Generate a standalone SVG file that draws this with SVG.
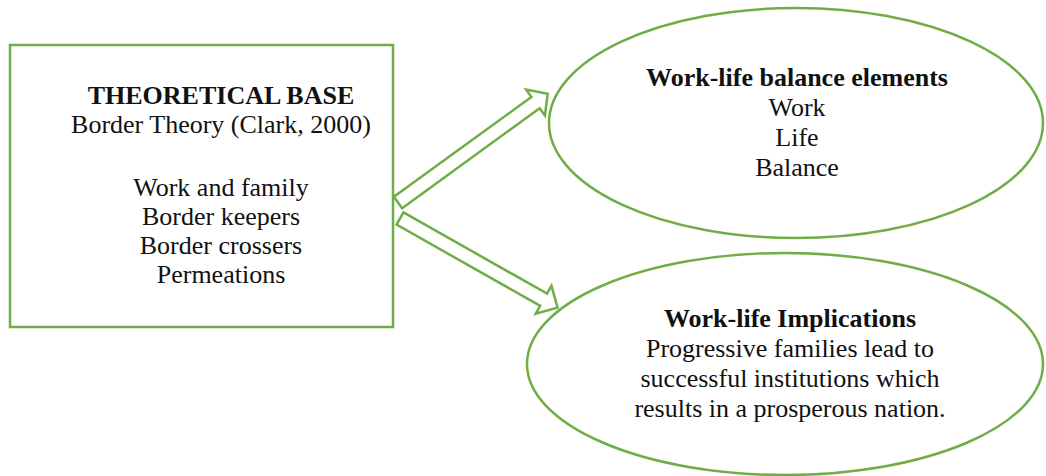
<svg xmlns="http://www.w3.org/2000/svg" width="1046" height="476" viewBox="0 0 1046 476">
  <style>
    .shape { fill: #ffffff; stroke: #70ad47; stroke-width: 2.5; }
    .arrow { fill: #ffffff; stroke: #70ad47; stroke-width: 2.5; stroke-linejoin: miter; }
    text { font-family: "Liberation Serif", "Times New Roman", serif; font-size: 26px; fill: #111111; text-anchor: middle; }
    .bold { font-weight: bold; }
  </style>
  <defs>
    <!-- block arrow pointing along +x, tail at origin -->
    <polygon id="block-arrow-185" points="0,-7 170,-7 170,-16 185,0 170,16 170,7 0,7"/>
    <polygon id="block-arrow-181" points="0,-7 165,-7 165,-16 181,0 165,16 165,7 0,7"/>
  </defs>
  <rect width="1046" height="476" fill="#ffffff"/>

  <g id="connectors">
    <use href="#block-arrow-185" class="arrow" transform="translate(398,202.5) rotate(-36)"/>
    <use href="#block-arrow-181" class="arrow" transform="translate(400,218.5) rotate(29.5)"/>
  </g>

  <g id="theoretical-base">
    <rect class="shape" x="10" y="45" width="383" height="282"/>
    <text class="bold" x="221" y="104">THEORETICAL BASE</text>
    <text x="221" y="133">Border Theory (Clark, 2000)</text>
    <text x="221" y="196">Work and family</text>
    <text x="221" y="225">Border keepers</text>
    <text x="221" y="254">Border crossers</text>
    <text x="221" y="283">Permeations</text>
  </g>

  <g id="balance-elements">
    <ellipse class="shape" cx="796" cy="123" rx="247" ry="115"/>
    <text class="bold" x="797" y="86">Work-life balance elements</text>
    <text x="797" y="116">Work</text>
    <text x="797" y="146">Life</text>
    <text x="797" y="176">Balance</text>
  </g>

  <g id="implications">
    <ellipse class="shape" cx="785" cy="364" rx="258" ry="111"/>
    <text class="bold" x="790" y="327">Work-life Implications</text>
    <text x="790" y="357">Progressive families lead to</text>
    <text x="790" y="387">successful institutions which</text>
    <text x="790" y="417">results in a prosperous nation.</text>
  </g>
</svg>
